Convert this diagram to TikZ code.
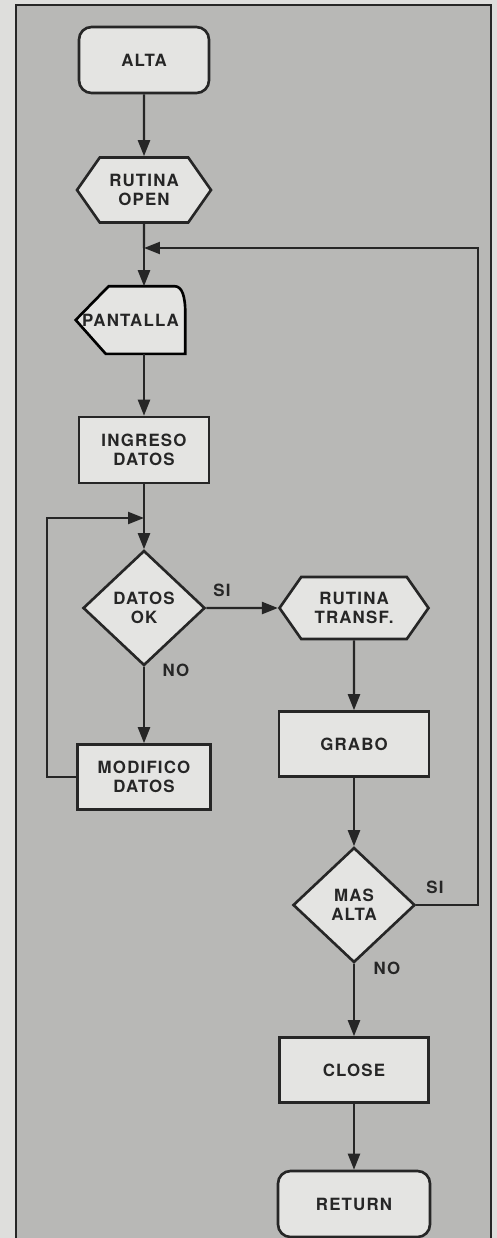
\documentclass[tikz,border=0pt]{standalone}
\usepackage{fontspec}
\usepackage{tikz}
\usetikzlibrary{arrows.meta,shapes.geometric,shapes.symbols,backgrounds}
\newfontfamily\chartfont[LetterSpace=7]{TeX Gyre Heros}
\definecolor{paper}{RGB}{222,222,220}
\definecolor{panel}{RGB}{184,184,182}
\definecolor{boxfill}{RGB}{228,228,226}
\definecolor{ink}{RGB}{38,38,38}
\begin{document}
\begin{tikzpicture}[x=0.02cm, y=-0.02cm, color=ink,
                    box/.style = {rectangle, draw, fill=boxfill, line width=1.5pt, minimum width=2.6cm, minimum height=1.32cm,
                                  align=center, text=ink, font=\chartfont\bfseries\fontsize{9.6}{11}\selectfont},
                    term/.style = {box, rounded corners=0.25cm},
                    prep/.style = {box, signal, signal to=west and east, signal pointer angle=110},
                    test/.style = {box, diamond, minimum width=2.44cm, minimum height=2.3cm, inner sep=0pt},
                    flow/.style = {line width=1.3pt, -{Triangle[length=3.2mm,width=2.4mm]}},
                    lbl/.style = {text=ink, font=\chartfont\bfseries\fontsize{9.6}{11}\selectfont}]
        \useasboundingbox (0,0) rectangle (497,1238);
        \begin{pgfonlayer}{background}
          \fill [paper] (0,0) rectangle (497,1238);
          \fill [panel] (16,5) rectangle (491,1238);
        \end{pgfonlayer}
        \draw [line width=1.7pt] (16,1238) -- (16,5) -- (491,5) -- (491,1238);

        \node [term] (alta) at (144,60) {ALTA};
        \node [prep, minimum width=2.68cm, minimum height=1.3cm] (open) at (144,190) {RUTINA\\OPEN};
        \node [box, draw=none, fill=none, inner sep=1pt, minimum width=2.14cm, minimum height=1.3cm] (pant) at (130.5,320) {PANTALLA};
        \node [box] (ingr) at (144,450) {INGRESO\\DATOS};
        \node [test] (dok) at (144,608) {DATOS\\OK};
        \node [box, minimum width=2.66cm, minimum height=1.3cm] (modif) at (144,777) {MODIFICO\\DATOS};
        \node [prep, minimum width=2.98cm, minimum height=1.24cm] (transf) at (354,608) {RUTINA\\TRANSF.};
        \node [box, minimum width=3cm, minimum height=1.3cm] (grabo) at (354,744) {GRABO};
        \node [test] (mas) at (354,905) {MAS\\ALTA};
        \node [box, minimum width=2.98cm, minimum height=1.3cm] (close) at (354,1070) {CLOSE};
        \node [term, minimum width=3.04cm] (ret) at (354,1204) {RETURN};

        % display symbol round the PANTALLA text
        \begin{pgfonlayer}{background}
          \draw [line width=1.5pt, fill=boxfill] ([xshift=0.66cm]pant.north west) -- (pant.west) -- ([xshift=0.6cm]pant.south west)
                -- (pant.south east) -- ([yshift=-0.56cm]pant.north east)
                .. controls ([yshift=-0.2cm]pant.north east) and ([xshift=-0.06cm]pant.north east) .. ([xshift=-0.22cm]pant.north east) -- cycle;
        \end{pgfonlayer}

        \coordinate (j1) at (144,248);
        \coordinate (j2) at (144,518);
        \coordinate (lx) at (47,518);
        \coordinate (rx) at (478,248);

        \node [lbl] (si1) at (222,590) {SI};
        \node [lbl] (no1) at (176,670) {NO};
        \node [lbl] (si2) at (435,887) {SI};
        \node [lbl] (no2) at (387,968) {NO};

        \draw [flow] (alta) -- (open);
        \draw [line width=1.3pt] (open) -- (j1);
        \draw [flow] (j1) -- (j1 |- pant.north);
        \draw [flow] (ingr.north |- pant.south) -- (ingr);
        \draw [line width=1.3pt] (ingr) -- (j2);
        \draw [flow] (j2) -- (dok);
        \draw [flow] (dok) -- (modif);
        \draw [flow] (modif.west) -| (lx) -- (j2);
        \draw [flow] (dok) -- (transf);
        \draw [flow] (transf) -- (grabo);
        \draw [flow] (grabo) -- (mas);
        \draw [flow] (mas) -- (close);
        \draw [flow] (close) -- (ret);
        \draw [flow] (mas.east) -| (rx) -- (j1);
\end{tikzpicture}
\end{document}
